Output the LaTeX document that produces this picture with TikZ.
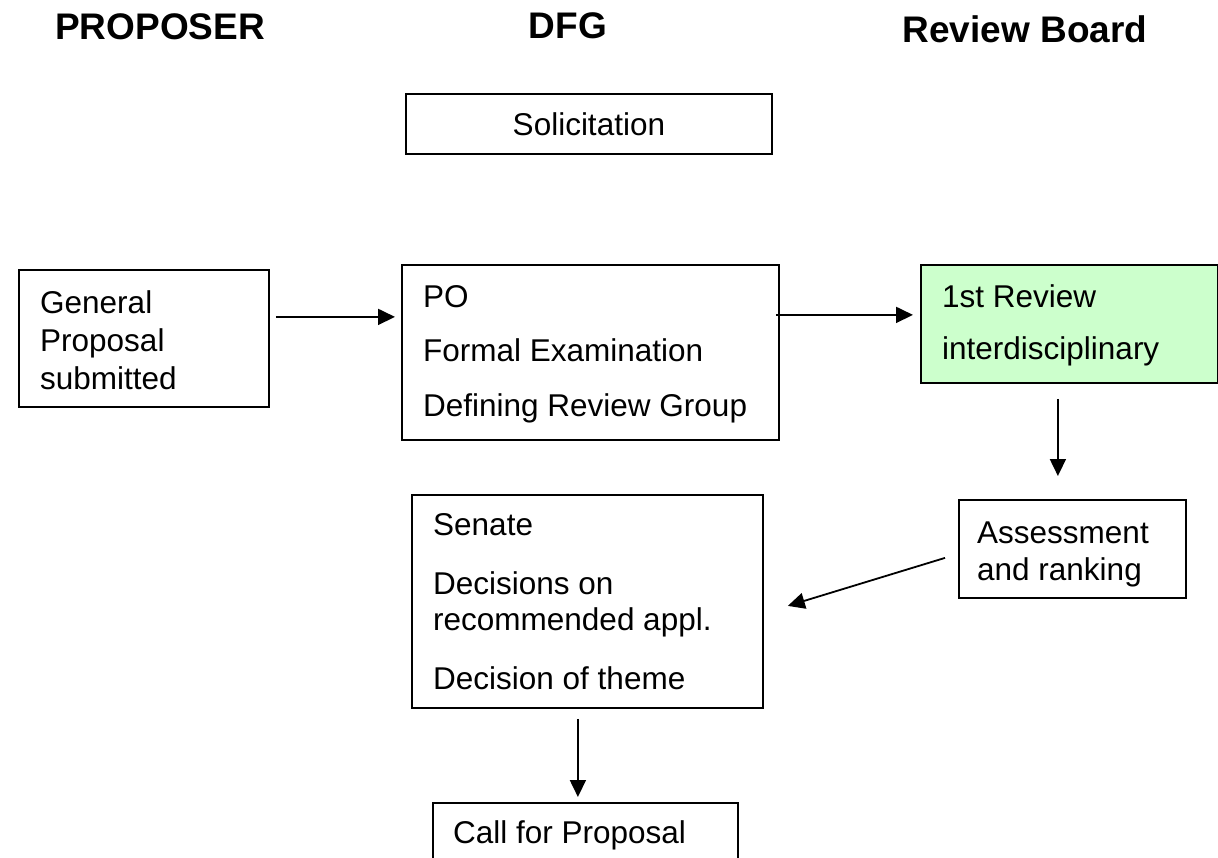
\documentclass[tikz,border=0pt]{standalone}
\usepackage{fontspec}
\setmainfont{Liberation Sans}
\usetikzlibrary{arrows.meta,calc}
\definecolor{lightgreen}{HTML}{CCFFCC}
\begin{document}
\begin{tikzpicture}[x=1pt,y=-1pt,
  box/.style={draw, line width=1.8pt, rectangle, inner sep=0pt, anchor=north west},
  txt/.style={anchor=base west, inner sep=0pt, font=\fontsize{31.5}{37}\selectfont},
  hdr/.style={anchor=base, inner sep=0pt, font=\fontsize{37}{44}\selectfont\bfseries},
  arr/.style={line width=1.8pt, -{Triangle[length=17pt,width=16pt]}}]
\path[use as bounding box] (0,0) rectangle (1218,858);
\clip (0,0) rectangle (1218,858);

% headers
\node[hdr] (hprop) at (160,40) {PROPOSER};
\node[hdr] (hdfg) at (568,39) {DFG};
\node[hdr] (hrb) at (1025,43) {Review Board};

% boxes
\node[box, minimum width=366pt, minimum height=60pt, font=\fontsize{31.5}{37}\selectfont] (sol) at (405,93) {Solicitation};
\node[box, minimum width=250pt, minimum height=137pt] (gp) at (18,269) {};
\node[box, minimum width=377pt, minimum height=175pt] (po) at (401,264) {};
\node[box, fill=lightgreen, minimum width=297pt, minimum height=118pt] (rev) at (920,264) {};
\node[box, minimum width=227pt, minimum height=98pt] (ass) at (958,499) {};
\node[box, minimum width=351pt, minimum height=213pt] (sen) at (411,494) {};
\node[box, minimum width=305pt, minimum height=100pt] (cfp) at (432,802) {};

% texts
\node[txt] (gp1) at (40,314) {General};
\node[txt] (gp2) at (40,351.5) {Proposal};
\node[txt] (gp3) at (40,389) {submitted};

\node[txt] (po1) at (423,308) {PO};
\node[txt] (po2) at (423,362) {Formal Examination};
\node[txt] (po3) at (423,416) {Defining Review Group};

\node[txt] (rev1) at (942,308) {1st Review};
\node[txt] (rev2) at (942,360) {interdisciplinary};

\node[txt] (ass1) at (977,543) {Assessment};
\node[txt] (ass2) at (977,580) {and ranking};

\node[txt] (sen1) at (433,535) {Senate};
\node[txt] (sen2) at (433,594) {Decisions on};
\node[txt] (sen3) at (433,630) {recommended appl.};
\node[txt] (sen4) at (433,689) {Decision of theme};

\node[txt] (cfp1) at (453,843) {Call for Proposal};

% connectors
\draw[arr] ($(gp.east)+(6,-21.5)$) -- ($(po.west)+(-6,-35.5)$);
\draw[arr] ($(po.east)+(-4,-37.5)$) -- ($(rev.west)+(-7,-9)$);
\draw[arr] ($(rev.south)+(-11.5,15)$) -- ($(ass.north)+(-14.5,-23)$);
\draw[arr] ($(ass.west)+(-13,9)$) -- ($(sen.east)+(24,4.5)$);
\draw[arr] ($(sen.south)+(-9.5,10)$) -- ($(cfp.north)+(-7.5,-5)$);
\end{tikzpicture}
\end{document}
